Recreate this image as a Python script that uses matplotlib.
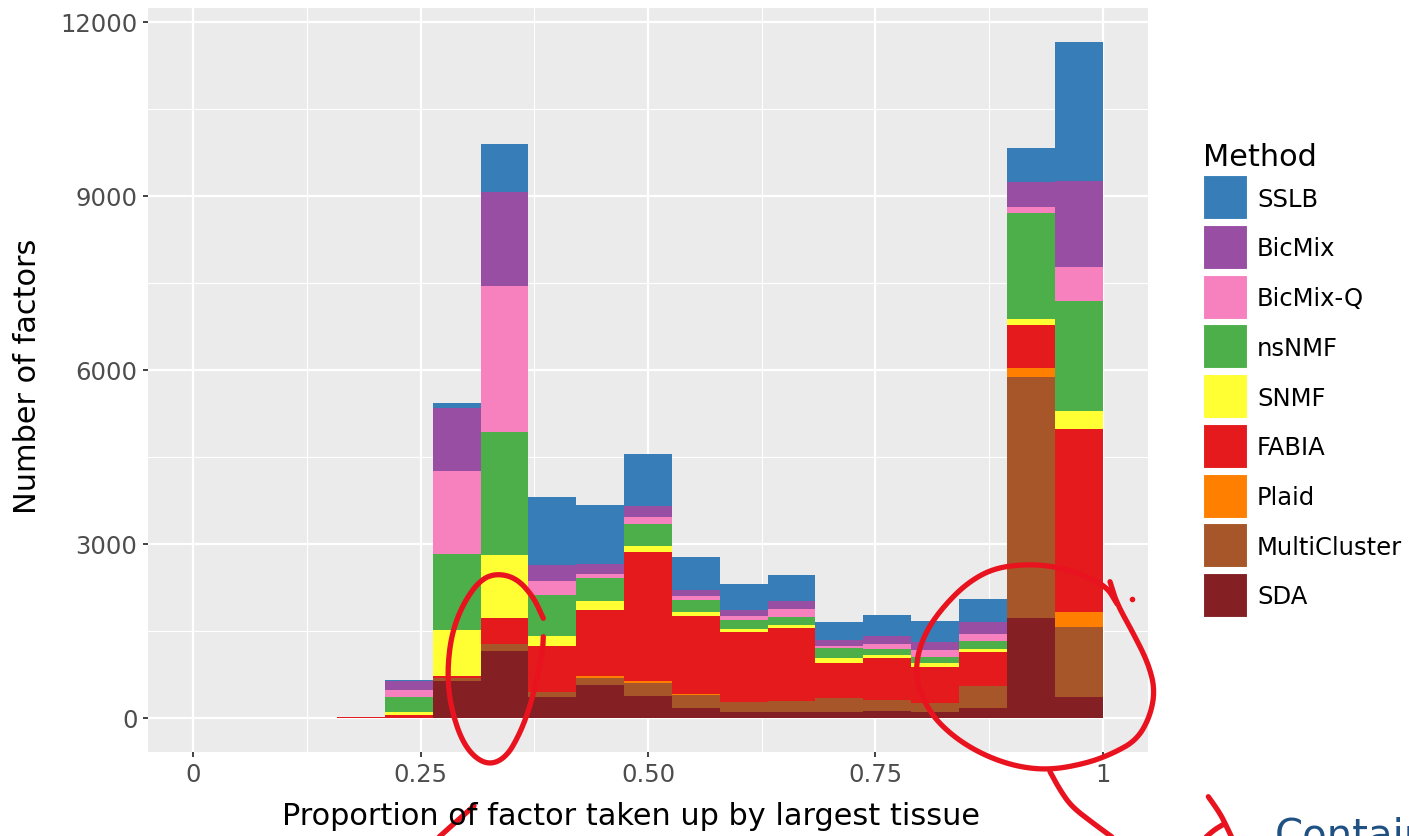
import numpy as np
import matplotlib
matplotlib.use("Agg")
import matplotlib.pyplot as plt
from matplotlib.patches import Rectangle
from matplotlib.lines import Line2D

# Histogram bins: 19 equal-width bins on [0, 1]; counts for bins 4..19 (first three are empty)
n_bins = 19
first_bin = 3

methods = ["SSLB", "BicMix", "BicMix-Q", "nsNMF", "SNMF", "FABIA", "Plaid", "MultiCluster", "SDA"]
colors = ["#377EB8", "#984EA3", "#F781BF", "#4DAF4A", "#FFFF33", "#E41A1C", "#FF7F00", "#A65628", "#841F23"]

sda          = [0, 0,  643, 1157,  367,  574,  385,  178,  115,  115,  109,  121,  109,  178, 1721,  370]
multicluster = [0, 0,   52,  118,   81,  126,  223,  218,  166,  183,  235,  189,  155,  373, 4168, 1198]
plaid        = [0, 0,    0,    0,    0,   20,   35,   17,    0,    0,    0,   10,    0,    0,  145,  267]
fabia        = [20, 52,  28,  445,  803, 1137, 2221, 1355, 1206, 1258,  603,  719,  620,  591,  748, 3146]
snmf         = [0, 57,  792, 1093,  173,  160,   98,   57,   57,   57,   86,   46,   69,   58,  107,  313]
nsnmf        = [0, 258, 1321, 2128, 700,  408,  379,  218,  155,  138,  178,  103,  103,  137, 1825, 1901]
bicmix_q     = [0, 127, 1423, 2514, 235,   52,  126,   64,   69,  126,   35,   98,  127,  121,   99,  580]
bicmix       = [0, 143, 1091, 1610, 287,  178,  195,   97,  103,  138,   97,  126,  131,  195,  427, 1488]
sslb         = [0, 17,   80,  832, 1165, 1027,  884,  574,  436,  459,  310,  367,  368,  402,  596, 2397]

counts = {
    "SSLB": sslb, "BicMix": bicmix, "BicMix-Q": bicmix_q, "nsNMF": nsnmf, "SNMF": snmf,
    "FABIA": fabia, "Plaid": plaid, "MultiCluster": multicluster, "SDA": sda,
}

x_ticks = [0, 0.25, 0.5, 0.75, 1]
x_tick_labels = ["0", "0.25", "0.50", "0.75", "1"]
y_ticks = [0, 3000, 6000, 9000, 12000]

W, H = 1409, 836
fig = plt.figure(figsize=(W / 100, H / 100), dpi=100)
fig.patch.set_facecolor("white")

def fx(px):
    return px / W

def fy(py):
    return 1 - py / H

ax = fig.add_axes([fx(148), fy(752), fx(1148) - fx(148), fy(8) - fy(752)])
ax.set_facecolor("#EBEBEB")
for s in ax.spines.values():
    s.set_visible(False)

width = 1.0 / n_bins
lefts = np.arange(first_bin, n_bins) * width

bottom = np.zeros(len(lefts))
for name, col in zip(methods[::-1], colors[::-1]):
    vals = np.array(counts[name], dtype=float)
    ax.bar(lefts, vals, width=width, bottom=bottom, align="edge", color=col,
           linewidth=0, zorder=3)
    bottom += vals

ymax = bottom.max()
ax.set_ylim(-0.05 * ymax, 1.05 * ymax)
ax.set_xlim(-0.05, 1.05)

# grid: white major and thinner minor lines
ax.set_xticks(x_ticks)
ax.set_xticklabels(x_tick_labels)
ax.set_yticks(y_ticks)
ax.set_yticklabels([str(v) for v in y_ticks])
ax.set_xticks([0.125, 0.375, 0.625, 0.875], minor=True)
ax.set_yticks([1500, 4500, 7500, 10500], minor=True)
ax.grid(which="major", color="white", linewidth=1.6, zorder=1)
ax.grid(which="minor", color="white", linewidth=0.8, zorder=1)
ax.set_axisbelow(True)
ax.tick_params(which="major", length=3.6, width=1.3, color="#333333",
               labelsize=17.5, labelcolor="#4D4D4D", pad=4)
ax.tick_params(which="minor", length=0)

fig.text(fx(631), fy(825), "Proportion of factor taken up by largest tissue",
         ha="center", va="baseline", fontsize=21.9, color="black")
fig.text(fx(28), fy(376), "Number of factors", rotation=90,
         ha="center", va="center", fontsize=21.9, color="black")

# legend
fig.text(fx(1203), fy(166), "Method", ha="left", va="baseline", fontsize=21.9, color="black")
key = 44
for i, (name, col) in enumerate(zip(methods, colors)):
    cy = 197.3 + i * 49.7
    fig.patches.append(Rectangle((fx(1203), fy(cy + key / 2)), fx(key), key / H,
                                 transform=fig.transFigure, facecolor=col,
                                 edgecolor="white", linewidth=0.8))
    fig.text(fx(1257), fy(cy), name, ha="left", va="center_baseline", fontsize=17.5, color="black")


def smooth(pts, rounds=3):
    """Chaikin corner cutting so pen strokes look hand drawn rather than polygonal."""
    p = np.asarray(pts, dtype=float)
    for _ in range(rounds):
        q = 0.75 * p[:-1] + 0.25 * p[1:]
        r = 0.25 * p[:-1] + 0.75 * p[1:]
        mid = np.empty((2 * len(q), 2))
        mid[0::2] = q
        mid[1::2] = r
        p = np.vstack([p[:1], mid, p[-1:]])
    return p


# red pen marks
pen = dict(color="#E8131F", linewidth=3.8, solid_capstyle="round", solid_joinstyle="round")
strokes = [
    [(543.3, 618.3), (533.3, 596.7), (516.7, 578.3), (496.7, 573.3), (480, 580), (463.3, 603.3),
     (451.7, 633.3), (447.3, 670), (450, 703.3), (460, 736.7), (473.3, 756.7), (490, 765),
     (506.7, 756.7), (520, 733.3), (530, 706.7), (538.3, 673.3), (542.7, 650), (543.3, 636.7)],
    [(474, 806), (458, 820), (438, 838)],
    [(1110, 581.7), (1116.7, 603.3), (1133.3, 633.3), (1148.3, 663.3), (1155, 690), (1150, 716.7),
     (1136.7, 740), (1113.3, 753.3), (1086.7, 763.3), (1050, 770), (1016.7, 766.7), (983.3, 755),
     (953.3, 736.7), (930, 713.3), (916.7, 683.3), (916.7, 656.7), (926.7, 630), (943.3, 606.7),
     (966.7, 583.3), (993.3, 568.3), (1026.7, 564), (1056.7, 566.7), (1083.3, 575),
     (1106.7, 586.7), (1116.7, 603.3)],
    [(1050, 771.7), (1060, 790), (1071.7, 806.7), (1093.3, 823.3), (1113.3, 838)],
    [(1208.3, 796.7), (1220, 813.3), (1226.7, 826.7), (1232, 838)],
    [(1224, 824), (1214, 830), (1205, 838)],
]
for pts in strokes:
    sp = smooth(pts)
    fig.add_artist(Line2D(sp[:, 0] / W, 1 - sp[:, 1] / H, transform=fig.transFigure, **pen))
fig.add_artist(Line2D([fx(1132.3)], [fy(599)], transform=fig.transFigure, marker="o",
                      markersize=3, color="#E8131F", linestyle="none"))

fig.text(fx(1275), fy(848), "Contains", ha="left", va="baseline", fontsize=29, color="#1F5183")

fig.savefig("out.png", dpi=100)
